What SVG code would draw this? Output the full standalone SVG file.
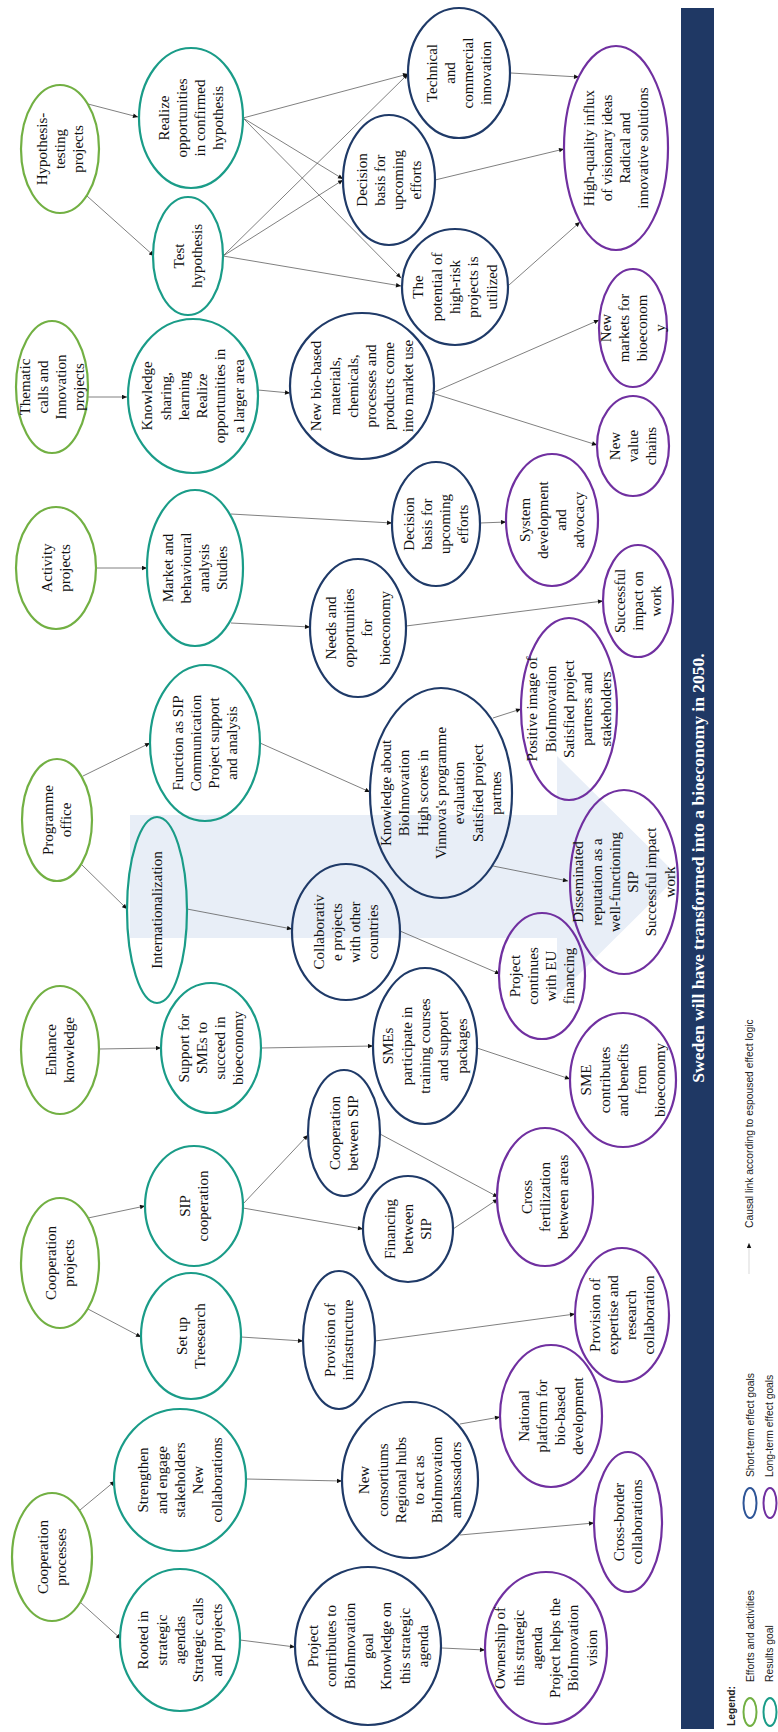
<svg xmlns="http://www.w3.org/2000/svg" width="778" height="1732" viewBox="0 0 778 1732">
<defs>
<style>
.e{fill:none;stroke-width:2.2}
.g{stroke:#72B043}.t{stroke:#1A9C88}.n{stroke:#1F3A68}.p{stroke:#7030A0}
.tx{font-family:"Liberation Serif","Times New Roman",serif;font-size:15px;fill:#111;text-anchor:middle}
.lg{font-family:"Liberation Sans",Arial,sans-serif;font-size:10.3px;fill:#222}
#conn line{stroke:#555;stroke-width:0.75;marker-end:url(#a)}
</style>
<marker id="a" viewBox="0 0 10 10" refX="10" refY="5" markerWidth="6" markerHeight="5" orient="auto" markerUnits="userSpaceOnUse"><path d="M0,0.5 L10,5 L0,9.5 z" fill="#111"/></marker>
</defs>
<rect width="778" height="1732" fill="#fff"/>
<polygon id="bigarrow" points="130,815 557,815 557,756 678,876 557,996 557,938 130,938" fill="#E8EEF7"/>
<g id="banner"><rect x="681" y="8" width="33" height="1721" fill="#1F3864"/>
<text transform="translate(703.5,868) rotate(-90)" style="font-family:'Liberation Serif','Times New Roman',serif;font-size:17.5px;font-weight:bold;fill:#fff;text-anchor:middle">Sweden will have transformed into a bioeconomy in 2050.</text></g>
<g id="conn">
<line x1="88" y1="104" x2="138" y2="117"/>
<line x1="87" y1="196" x2="154" y2="256"/>
<line x1="243" y1="118" x2="408" y2="74"/>
<line x1="243" y1="118" x2="343" y2="179"/>
<line x1="243" y1="118" x2="401" y2="278"/>
<line x1="223" y1="256" x2="408" y2="74"/>
<line x1="223" y1="256" x2="343" y2="180"/>
<line x1="223" y1="256" x2="401" y2="286"/>
<line x1="511" y1="73" x2="579" y2="77"/>
<line x1="435" y1="180" x2="564" y2="149"/>
<line x1="509" y1="285" x2="580" y2="222"/>
<line x1="87" y1="397" x2="127" y2="397"/>
<line x1="258" y1="390" x2="290" y2="393"/>
<line x1="432" y1="393" x2="599" y2="320"/>
<line x1="432" y1="393" x2="597" y2="445"/>
<line x1="96" y1="568" x2="147" y2="568"/>
<line x1="231" y1="514" x2="392" y2="523"/>
<line x1="231" y1="623" x2="310" y2="627"/>
<line x1="480" y1="523" x2="506" y2="522"/>
<line x1="406" y1="626" x2="603" y2="601"/>
<line x1="83" y1="776" x2="150" y2="743"/>
<line x1="81" y1="864" x2="127" y2="909"/>
<line x1="260" y1="743" x2="370" y2="792"/>
<line x1="493" y1="718" x2="521" y2="709"/>
<line x1="493" y1="866" x2="568" y2="881"/>
<line x1="187" y1="909" x2="292" y2="929"/>
<line x1="400" y1="931" x2="500" y2="974"/>
<line x1="99" y1="1049" x2="161" y2="1048"/>
<line x1="261" y1="1048" x2="373" y2="1046"/>
<line x1="477" y1="1048" x2="570" y2="1079"/>
<line x1="88" y1="1218" x2="145" y2="1206"/>
<line x1="88" y1="1309" x2="141" y2="1337"/>
<line x1="243" y1="1204" x2="308" y2="1135"/>
<line x1="243" y1="1208" x2="363" y2="1229"/>
<line x1="380" y1="1134" x2="498" y2="1197"/>
<line x1="453" y1="1229" x2="498" y2="1199"/>
<line x1="241" y1="1337" x2="303" y2="1341"/>
<line x1="375" y1="1341" x2="575" y2="1314"/>
<line x1="80" y1="1510" x2="115" y2="1481"/>
<line x1="80" y1="1602" x2="121" y2="1639"/>
<line x1="246" y1="1479" x2="342" y2="1481"/>
<line x1="460" y1="1424" x2="500" y2="1417"/>
<line x1="460" y1="1535" x2="594" y2="1523"/>
<line x1="240" y1="1640" x2="295" y2="1647"/>
<line x1="442" y1="1648" x2="485" y2="1650"/>
</g>
<g id="hyp"><ellipse class="e g" cx="60" cy="149" rx="39" ry="64"/><text class="tx" transform="translate(60,149) rotate(-90)"><tspan x="0" y="-13.3">Hypothesis-</tspan><tspan x="0" dy="18.3">testing</tspan><tspan x="0" dy="18.3">projects</tspan></text></g>
<g id="realize"><ellipse class="e t" cx="191" cy="118" rx="52" ry="70"/><text class="tx" transform="translate(191,118) rotate(-90)"><tspan x="0" y="-22.45">Realize</tspan><tspan x="0" dy="18.3">opportunities</tspan><tspan x="0" dy="18.3">in confirmed</tspan><tspan x="0" dy="18.3">hypothesis</tspan></text></g>
<g id="test"><ellipse class="e t" cx="188" cy="256" rx="35" ry="59"/><text class="tx" transform="translate(188,256) rotate(-90)"><tspan x="0" y="-4.15">Test</tspan><tspan x="0" dy="18.3">hypothesis</tspan></text></g>
<g id="thematic"><ellipse class="e g" cx="52" cy="387" rx="36" ry="66"/><text class="tx" transform="translate(52,387) rotate(-90)"><tspan x="0" y="-22.45">Thematic</tspan><tspan x="0" dy="18.3">calls and</tspan><tspan x="0" dy="18.3">Innovation</tspan><tspan x="0" dy="18.3">projects</tspan></text></g>
<g id="ksharing"><ellipse class="e t" cx="193" cy="396" rx="65" ry="77"/><text class="tx" transform="translate(193,396) rotate(-90)"><tspan x="0" y="-40.75">Knowledge</tspan><tspan x="0" dy="18.3">sharing,</tspan><tspan x="0" dy="18.3">learning</tspan><tspan x="0" dy="18.3">Realize</tspan><tspan x="0" dy="18.3">opportunities in</tspan><tspan x="0" dy="18.3">a larger area</tspan></text></g>
<g id="newbio"><ellipse class="e n" cx="362" cy="386" rx="72" ry="73"/><text class="tx" transform="translate(362,386) rotate(-90)"><tspan x="0" y="-40.75">New bio-based</tspan><tspan x="0" dy="18.3">materials,</tspan><tspan x="0" dy="18.3">chemicals,</tspan><tspan x="0" dy="18.3">processes and</tspan><tspan x="0" dy="18.3">products come</tspan><tspan x="0" dy="18.3">into market use</tspan></text></g>
<g id="tech"><ellipse class="e n" cx="459" cy="73" rx="51" ry="65"/><text class="tx" transform="translate(459,73) rotate(-90)"><tspan x="0" y="-22.45">Technical</tspan><tspan x="0" dy="18.3">and</tspan><tspan x="0" dy="18.3">commercial</tspan><tspan x="0" dy="18.3">innovation</tspan></text></g>
<g id="dec1"><ellipse class="e n" cx="389" cy="180" rx="46" ry="65"/><text class="tx" transform="translate(389,180) rotate(-90)"><tspan x="0" y="-22.45">Decision</tspan><tspan x="0" dy="18.3">basis for</tspan><tspan x="0" dy="18.3">upcoming</tspan><tspan x="0" dy="18.3">efforts</tspan></text></g>
<g id="potential"><ellipse class="e n" cx="455" cy="287" rx="53" ry="58"/><text class="tx" transform="translate(455,287) rotate(-90)"><tspan x="0" y="-31.6">The</tspan><tspan x="0" dy="18.3">potential of</tspan><tspan x="0" dy="18.3">high-risk</tspan><tspan x="0" dy="18.3">projects is</tspan><tspan x="0" dy="18.3">utilized</tspan></text></g>
<g id="highq"><ellipse class="e p" cx="616" cy="148" rx="52" ry="102"/><text class="tx" transform="translate(616,148) rotate(-90)"><tspan x="0" y="-22.45">High-quality influx</tspan><tspan x="0" dy="18.3">of visionary ideas</tspan><tspan x="0" dy="18.3">Radical and</tspan><tspan x="0" dy="18.3">innovative solutions</tspan></text></g>
<g id="markets"><ellipse class="e p" cx="633" cy="328" rx="34" ry="59"/><text class="tx" transform="translate(633,328) rotate(-90)"><tspan x="0" y="-22.45">New</tspan><tspan x="0" dy="18.3">markets for</tspan><tspan x="0" dy="18.3">bioeconom</tspan><tspan x="0" dy="18.3">y</tspan></text></g>
<g id="value"><ellipse class="e p" cx="633" cy="446" rx="36" ry="50"/><text class="tx" transform="translate(633,446) rotate(-90)"><tspan x="0" y="-13.3">New</tspan><tspan x="0" dy="18.3">value</tspan><tspan x="0" dy="18.3">chains</tspan></text></g>
<g id="activity"><ellipse class="e g" cx="56" cy="568" rx="40" ry="61"/><text class="tx" transform="translate(56,568) rotate(-90)"><tspan x="0" y="-4.15">Activity</tspan><tspan x="0" dy="18.3">projects</tspan></text></g>
<g id="market"><ellipse class="e t" cx="195" cy="568" rx="48" ry="78"/><text class="tx" transform="translate(195,568) rotate(-90)"><tspan x="0" y="-22.45">Market and</tspan><tspan x="0" dy="18.3">behavioural</tspan><tspan x="0" dy="18.3">analysis</tspan><tspan x="0" dy="18.3">Studies</tspan></text></g>
<g id="dec2"><ellipse class="e n" cx="436" cy="524" rx="44" ry="62"/><text class="tx" transform="translate(436,524) rotate(-90)"><tspan x="0" y="-22.45">Decision</tspan><tspan x="0" dy="18.3">basis for</tspan><tspan x="0" dy="18.3">upcoming</tspan><tspan x="0" dy="18.3">efforts</tspan></text></g>
<g id="needs"><ellipse class="e n" cx="358" cy="628" rx="48" ry="69"/><text class="tx" transform="translate(358,628) rotate(-90)"><tspan x="0" y="-22.45">Needs and</tspan><tspan x="0" dy="18.3">opportunities</tspan><tspan x="0" dy="18.3">for</tspan><tspan x="0" dy="18.3">bioeconomy</tspan></text></g>
<g id="system"><ellipse class="e p" cx="552" cy="520" rx="46" ry="66"/><text class="tx" transform="translate(552,520) rotate(-90)"><tspan x="0" y="-22.45">System</tspan><tspan x="0" dy="18.3">development</tspan><tspan x="0" dy="18.3">and</tspan><tspan x="0" dy="18.3">advocacy</tspan></text></g>
<g id="success"><ellipse class="e p" cx="638" cy="601" rx="35" ry="56"/><text class="tx" transform="translate(638,601) rotate(-90)"><tspan x="0" y="-13.3">Successful</tspan><tspan x="0" dy="18.3">impact on</tspan><tspan x="0" dy="18.3">work</tspan></text></g>
<g id="progoffice"><ellipse class="e g" cx="57" cy="820" rx="35" ry="61"/><text class="tx" transform="translate(57,820) rotate(-90)"><tspan x="0" y="-4.15">Programme</tspan><tspan x="0" dy="18.3">office</tspan></text></g>
<g id="function"><ellipse class="e t" cx="205" cy="743" rx="55" ry="78"/><text class="tx" transform="translate(205,743) rotate(-90)"><tspan x="0" y="-22.45">Function as SIP</tspan><tspan x="0" dy="18.3">Communication</tspan><tspan x="0" dy="18.3">Project support</tspan><tspan x="0" dy="18.3">and analysis</tspan></text></g>
<g id="kabout"><ellipse class="e n" cx="441" cy="793" rx="71" ry="105"/><text class="tx" transform="translate(441,793) rotate(-90)"><tspan x="0" y="-49.9">Knowledge about</tspan><tspan x="0" dy="18.3">BioInnovation</tspan><tspan x="0" dy="18.3">High scores in</tspan><tspan x="0" dy="18.3">Vinnova's programme</tspan><tspan x="0" dy="18.3">evaluation</tspan><tspan x="0" dy="18.3">Satisfied project</tspan><tspan x="0" dy="18.3">partnes</tspan></text></g>
<g id="positive"><ellipse class="e p" cx="569" cy="709" rx="48" ry="91"/><text class="tx" transform="translate(569,709) rotate(-90)"><tspan x="0" y="-31.6">Positive image of</tspan><tspan x="0" dy="18.3">BioInnovation</tspan><tspan x="0" dy="18.3">Satisfied project</tspan><tspan x="0" dy="18.3">partners and</tspan><tspan x="0" dy="18.3">stakeholders</tspan></text></g>
<g id="intl"><ellipse class="e t" cx="157" cy="910" rx="30" ry="93"/><text class="tx" transform="translate(157,910) rotate(-90)"><tspan x="0" y="5">Internationalization</tspan></text></g>
<g id="collab"><ellipse class="e n" cx="346" cy="932" rx="54" ry="68"/><text class="tx" transform="translate(346,932) rotate(-90)"><tspan x="0" y="-22.45">Collaborativ</tspan><tspan x="0" dy="18.3">e projects</tspan><tspan x="0" dy="18.3">with other</tspan><tspan x="0" dy="18.3">countries</tspan></text></g>
<g id="dissem"><ellipse class="e p" cx="624" cy="882" rx="54" ry="92"/><text class="tx" transform="translate(624,882) rotate(-90)"><tspan x="0" y="-40.75">Disseminated</tspan><tspan x="0" dy="18.3">reputation as a</tspan><tspan x="0" dy="18.3">well-functioning</tspan><tspan x="0" dy="18.3">SIP</tspan><tspan x="0" dy="18.3">Successful impact</tspan><tspan x="0" dy="18.3">work</tspan></text></g>
<g id="eu"><ellipse class="e p" cx="542" cy="976" rx="43" ry="63"/><text class="tx" transform="translate(542,976) rotate(-90)"><tspan x="0" y="-22.45">Project</tspan><tspan x="0" dy="18.3">continues</tspan><tspan x="0" dy="18.3">with EU</tspan><tspan x="0" dy="18.3">financing</tspan></text></g>
<g id="enhance"><ellipse class="e g" cx="60" cy="1050" rx="39" ry="64"/><text class="tx" transform="translate(60,1050) rotate(-90)"><tspan x="0" y="-4.15">Enhance</tspan><tspan x="0" dy="18.3">knowledge</tspan></text></g>
<g id="support"><ellipse class="e t" cx="211" cy="1048" rx="50" ry="65"/><text class="tx" transform="translate(211,1048) rotate(-90)"><tspan x="0" y="-22.45">Support for</tspan><tspan x="0" dy="18.3">SMEs to</tspan><tspan x="0" dy="18.3">succeed in</tspan><tspan x="0" dy="18.3">bioeconomy</tspan></text></g>
<g id="smes"><ellipse class="e n" cx="425" cy="1046" rx="52" ry="78"/><text class="tx" transform="translate(425,1046) rotate(-90)"><tspan x="0" y="-31.6">SMEs</tspan><tspan x="0" dy="18.3">participate in</tspan><tspan x="0" dy="18.3">training courses</tspan><tspan x="0" dy="18.3">and support</tspan><tspan x="0" dy="18.3">packages</tspan></text></g>
<g id="smec"><ellipse class="e p" cx="623" cy="1080" rx="53" ry="67"/><text class="tx" transform="translate(623,1080) rotate(-90)"><tspan x="0" y="-31.6">SME</tspan><tspan x="0" dy="18.3">contributes</tspan><tspan x="0" dy="18.3">and benefits</tspan><tspan x="0" dy="18.3">from</tspan><tspan x="0" dy="18.3">bioeconomy</tspan></text></g>
<g id="coopproj"><ellipse class="e g" cx="60" cy="1263" rx="39" ry="65"/><text class="tx" transform="translate(60,1263) rotate(-90)"><tspan x="0" y="-4.15">Cooperation</tspan><tspan x="0" dy="18.3">projects</tspan></text></g>
<g id="sipcoop"><ellipse class="e t" cx="194" cy="1206" rx="49" ry="60"/><text class="tx" transform="translate(194,1206) rotate(-90)"><tspan x="0" y="-4.15">SIP</tspan><tspan x="0" dy="18.3">cooperation</tspan></text></g>
<g id="coopsip"><ellipse class="e n" cx="344" cy="1133" rx="36" ry="63"/><text class="tx" transform="translate(344,1133) rotate(-90)"><tspan x="0" y="-4.15">Cooperation</tspan><tspan x="0" dy="18.3">between SIP</tspan></text></g>
<g id="finsip"><ellipse class="e n" cx="408" cy="1229" rx="45" ry="53"/><text class="tx" transform="translate(408,1229) rotate(-90)"><tspan x="0" y="-13.3">Financing</tspan><tspan x="0" dy="18.3">between</tspan><tspan x="0" dy="18.3">SIP</tspan></text></g>
<g id="crossfert"><ellipse class="e p" cx="545" cy="1197" rx="48" ry="69"/><text class="tx" transform="translate(545,1197) rotate(-90)"><tspan x="0" y="-13.3">Cross</tspan><tspan x="0" dy="18.3">fertilization</tspan><tspan x="0" dy="18.3">between areas</tspan></text></g>
<g id="provexp"><ellipse class="e p" cx="622" cy="1315" rx="47" ry="67"/><text class="tx" transform="translate(622,1315) rotate(-90)"><tspan x="0" y="-22.45">Provision of</tspan><tspan x="0" dy="18.3">expertise and</tspan><tspan x="0" dy="18.3">research</tspan><tspan x="0" dy="18.3">collaboration</tspan></text></g>
<g id="treesearch"><ellipse class="e t" cx="191" cy="1336" rx="50" ry="63"/><text class="tx" transform="translate(191,1336) rotate(-90)"><tspan x="0" y="-4.15">Set up</tspan><tspan x="0" dy="18.3">Treesearch</tspan></text></g>
<g id="provinfra"><ellipse class="e n" cx="339" cy="1340" rx="36" ry="69"/><text class="tx" transform="translate(339,1340) rotate(-90)"><tspan x="0" y="-4.15">Provision of</tspan><tspan x="0" dy="18.3">infrastructure</tspan></text></g>
<g id="coopproc"><ellipse class="e g" cx="52" cy="1557" rx="40" ry="64"/><text class="tx" transform="translate(52,1557) rotate(-90)"><tspan x="0" y="-4.15">Cooperation</tspan><tspan x="0" dy="18.3">processes</tspan></text></g>
<g id="strengthen"><ellipse class="e t" cx="180" cy="1480" rx="66" ry="71"/><text class="tx" transform="translate(180,1480) rotate(-90)"><tspan x="0" y="-31.6">Strengthen</tspan><tspan x="0" dy="18.3">and engage</tspan><tspan x="0" dy="18.3">stakeholders</tspan><tspan x="0" dy="18.3">New</tspan><tspan x="0" dy="18.3">collaborations</tspan></text></g>
<g id="consortium"><ellipse class="e n" cx="410" cy="1480" rx="68" ry="78"/><text class="tx" transform="translate(410,1480) rotate(-90)"><tspan x="0" y="-40.75">New</tspan><tspan x="0" dy="18.3">consortiums</tspan><tspan x="0" dy="18.3">Regional hubs</tspan><tspan x="0" dy="18.3">to act as</tspan><tspan x="0" dy="18.3">BioInnovation</tspan><tspan x="0" dy="18.3">ambassadors</tspan></text></g>
<g id="national"><ellipse class="e p" cx="551" cy="1416" rx="51" ry="71"/><text class="tx" transform="translate(551,1416) rotate(-90)"><tspan x="0" y="-22.45">National</tspan><tspan x="0" dy="18.3">platform for</tspan><tspan x="0" dy="18.3">bio-based</tspan><tspan x="0" dy="18.3">development</tspan></text></g>
<g id="rooted"><ellipse class="e t" cx="180" cy="1640" rx="60" ry="71"/><text class="tx" transform="translate(180,1640) rotate(-90)"><tspan x="0" y="-31.6">Rooted in</tspan><tspan x="0" dy="18.3">strategic</tspan><tspan x="0" dy="18.3">agendas</tspan><tspan x="0" dy="18.3">Strategic calls</tspan><tspan x="0" dy="18.3">and projects</tspan></text></g>
<g id="projcontrib"><ellipse class="e n" cx="368" cy="1646" rx="73" ry="79"/><text class="tx" transform="translate(368,1646) rotate(-90)"><tspan x="0" y="-49.9">Project</tspan><tspan x="0" dy="18.3">contributes to</tspan><tspan x="0" dy="18.3">BioInnovation</tspan><tspan x="0" dy="18.3">goal</tspan><tspan x="0" dy="18.3">Knowledge on</tspan><tspan x="0" dy="18.3">this strategic</tspan><tspan x="0" dy="18.3">agenda</tspan></text></g>
<g id="ownership"><ellipse class="e p" cx="546" cy="1648" rx="61" ry="76"/><text class="tx" transform="translate(546,1648) rotate(-90)"><tspan x="0" y="-40.75">Ownership of</tspan><tspan x="0" dy="18.3">this strategic</tspan><tspan x="0" dy="18.3">agenda</tspan><tspan x="0" dy="18.3">Project helps the</tspan><tspan x="0" dy="18.3">BioInnovation</tspan><tspan x="0" dy="18.3">vision</tspan></text></g>
<g id="crossborder"><ellipse class="e p" cx="628" cy="1522" rx="34" ry="70"/><text class="tx" transform="translate(628,1522) rotate(-90)"><tspan x="0" y="-4.15">Cross-border</tspan><tspan x="0" dy="18.3">collaborations</tspan></text></g>
<g id="legend">
<text class="lg" transform="translate(735,1726) rotate(-90)" style="font-weight:bold">Legend:</text>
<ellipse class="p" cx="750" cy="1712" rx="6.5" ry="14" style="fill:none;stroke:#72B043;stroke-width:2"/>
<ellipse cx="770" cy="1712" rx="6.5" ry="14" style="fill:none;stroke:#1A9C88;stroke-width:2"/>
<text class="lg" transform="translate(754,1682) rotate(-90)">Efforts and activities</text>
<text class="lg" transform="translate(773,1682) rotate(-90)">Results goal</text>
<ellipse cx="750" cy="1503" rx="6.5" ry="15" style="fill:none;stroke:#2E5597;stroke-width:2"/>
<ellipse cx="770" cy="1503" rx="6.5" ry="15" style="fill:none;stroke:#7030A0;stroke-width:2"/>
<text class="lg" transform="translate(754,1477) rotate(-90)">Short-term effect goals</text>
<text class="lg" transform="translate(773,1477) rotate(-90)">Long-term effect goals</text>
<line x1="749" y1="1274" x2="749" y2="1243" style="stroke:#ccc;stroke-width:0.75" marker-end="url(#a)"/>
<text class="lg" transform="translate(753,1228) rotate(-90)">Causal link according to espoused effect logic</text>
</g>
</svg>
